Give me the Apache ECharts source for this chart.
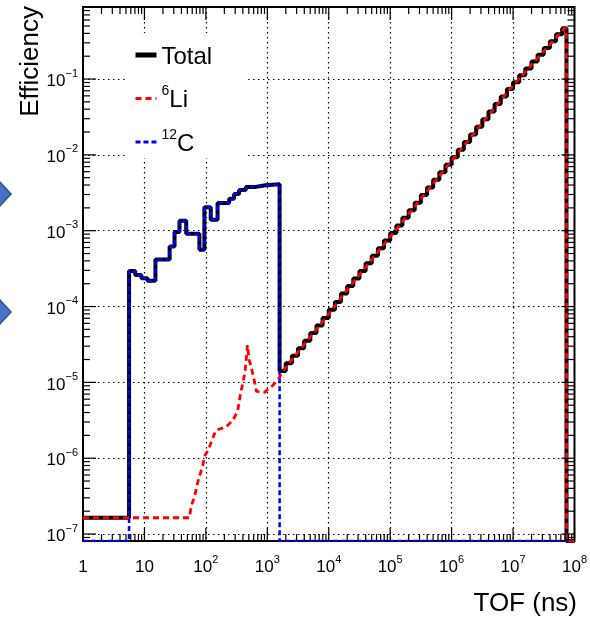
<!DOCTYPE html>
<html>
<head>
<meta charset="utf-8">
<script src="https://cdn.jsdelivr.net/npm/echarts@6/dist/echarts.min.js"></script>
<style>
  html, body { margin: 0; padding: 0; background: #fff; }
  #chart { width: 590px; height: 623px; }
</style>
</head>
<body>
<div id="chart"></div>
<script>
const FONT = '"Liberation Sans", Arial, Helvetica, sans-serif'

// axis ranges: TOF in ns, efficiency
const tofRange = [1, 1e8]
const effRange = [8.09e-8, 0.891]

// 6Li flat level at short TOF (Total follows it below the 12C edge)
const li6Floor = 1.64e-7

// 12C histogram: bin edges (ns) and efficiency per bin
const c12Edges = [5.62, 7.08, 8.91, 11.2, 15.1, 25.7, 30.9, 37.2, 47.9, 78.5, 94.6, 120, 155, 240, 288, 347, 447, 646, 933, 1585]
const c12Eff = [2.95e-4, 2.61e-4, 2.36e-4, 2.18e-4, 4.17e-4, 6.17e-4, 9.6e-4, 1.35e-3, 9.1e-4, 5.6e-4,
  2.04e-3, 1.39e-3, 2.31e-3, 2.63e-3, 3.05e-3, 3.45e-3, 3.78e-3, 3.98e-3, 4.10e-3]

// long-TOF rise (6Li only, so Total = 6Li): bin edges (ns) and efficiency
const riseEdges = [1585, 1995, 2512, 3162, 3981, 5012, 6310, 7943,
  1e4, 1.26e4, 1.58e4, 2.0e4, 2.51e4, 3.16e4, 3.98e4, 5.01e4, 6.31e4, 7.94e4,
  1e5, 1.26e5, 1.58e5, 2.0e5, 2.51e5, 3.16e5, 3.98e5, 5.01e5, 6.31e5, 7.94e5,
  1e6, 1.26e6, 1.58e6, 2.0e6, 2.51e6, 3.16e6, 3.98e6, 5.01e6, 6.31e6, 7.94e6,
  1e7, 1.26e7, 1.58e7, 2.0e7, 2.51e7, 3.16e7, 3.98e7, 5.01e7, 6.31e7, 7.41e7]
const riseEff = [1.41e-5, 1.78e-5, 2.24e-5, 2.82e-5, 3.55e-5, 4.47e-5, 5.62e-5, 7.08e-5,
  9.1e-5, 1.15e-4, 1.48e-4, 1.86e-4, 2.34e-4, 2.95e-4, 3.72e-4, 4.68e-4, 5.89e-4, 7.41e-4,
  9.33e-4, 1.17e-3, 1.48e-3, 1.86e-3, 2.34e-3, 2.95e-3, 3.72e-3, 4.68e-3, 5.89e-3, 7.41e-3,
  9.33e-3, 1.17e-2, 1.48e-2, 1.86e-2, 2.34e-2, 2.95e-2, 3.72e-2, 4.68e-2, 5.89e-2, 7.41e-2,
  9.1e-2, 0.112, 0.138, 0.170, 0.209, 0.257, 0.316, 0.389, 0.468]

// 6Li curve below the rise (TOF ns, efficiency)
const li6Tof = [1, 54, 57.5, 65.2, 76.4, 88.7, 94.6, 111, 126, 146,
  212, 272, 327, 349, 372, 405, 437, 458, 475, 506,
  560, 610, 665, 912, 1067, 1208, 1371, 1549]
const li6Eff = [1.64e-7, 1.64e-7, 2.3e-7, 3.1e-7, 5.4e-7, 7.8e-7, 1.05e-6, 1.32e-6, 1.74e-6, 2.34e-6,
  2.57e-6, 3.13e-6, 4.1e-6, 5.6e-6, 7.6e-6, 1.02e-5, 1.46e-5, 2.19e-5, 3.1e-5, 2.0e-5,
  1.46e-5, 1.08e-5, 7.6e-6, 7.4e-6, 8.4e-6, 9.0e-6, 1.02e-5, 1.13e-5]

const seriesNames = ['Total', '6Li', '12C']

// ---- build drawable point lists ----
const binPoints = (edges, vals) => vals.map((v, i) => [edges[i], v])
const lastRiseEdge = riseEdges[riseEdges.length - 1]
const lastRiseEff = riseEff[riseEff.length - 1]

const totalData = [[tofRange[0], li6Floor]]
  .concat(binPoints(c12Edges, c12Eff))
  .concat(binPoints(riseEdges, riseEff))
  .concat([[lastRiseEdge, effRange[0]], [tofRange[1], effRange[0]]])

const c12Data = [[tofRange[0], effRange[0]]]
  .concat(binPoints(c12Edges, c12Eff))
  .concat([[c12Edges[c12Edges.length - 1], effRange[0]], [tofRange[1], effRange[0]]])

// 6Li drawn as a line through bin centres
const li6Data = li6Tof.map((t, i) => [t, li6Eff[i]])
  .concat(riseEff.map((v, i) => [Math.sqrt(riseEdges[i] * riseEdges[i + 1]), v]))
  .concat([[lastRiseEdge, lastRiseEff], [lastRiseEdge, effRange[0]], [tofRange[1], effRange[0]]])

function powerLabel (v) {
  const e = Math.round(Math.log10(v))
  if (Math.abs(v / Math.pow(10, e) - 1) > 1e-6) return ''
  if (e === 0) return '{b|1}'
  if (e === 1) return '{b|10}'
  return '{b|10}{s|' + (e < 0 ? '\u2212' + (-e) : e) + '}'
}

const labelRich = {
  b: { fontFamily: FONT, fontSize: 17, color: '#000', lineHeight: 22, verticalAlign: 'bottom' },
  s: { fontFamily: FONT, fontSize: 11, color: '#000', verticalAlign: 'top' }
}

const dotted = { color: '#000', width: 1.2, type: [1.5, 3.5] }

// log tick marks on all four sides of the frame
function renderTicks (params, api) {
  const lines = []
  const bl = api.coord([tofRange[0], effRange[0]])
  const tr = api.coord([tofRange[1], effRange[1]])
  const add = (x1, y1, x2, y2) => lines.push({
    type: 'line',
    shape: { x1, y1, x2, y2 },
    style: { stroke: '#000', lineWidth: 1.2 }
  })
  for (let d = 0; d <= 8; d++) {
    for (let m = 1; m <= 9; m++) {
      const v = m * Math.pow(10, d)
      if (v > tofRange[1] * 1.0001) break
      const x = api.coord([v, effRange[0]])[0]
      const len = m === 1 ? 13 : 7
      add(x, bl[1], x, bl[1] - len)
      add(x, tr[1], x, tr[1] + len)
    }
  }
  for (let d = -8; d <= 0; d++) {
    for (let m = 1; m <= 9; m++) {
      const v = m * Math.pow(10, d)
      if (v < effRange[0] || v > effRange[1]) continue
      const y = api.coord([tofRange[0], v])[1]
      const len = m === 1 ? 13 : 7
      add(bl[0], y, bl[0] + len, y)
      add(tr[0], y, tr[0] - len, y)
    }
  }
  return { type: 'group', children: lines }
}

const noSymbol = { opacity: 0, borderWidth: 0 }

const chart = echarts.init(document.getElementById('chart'), null, { renderer: 'canvas' })
chart.setOption({
  animation: false,
  backgroundColor: '#fff',
  grid: {
    left: 83,
    right: 13,
    top: 7,
    bottom: 82,
    show: true,
    borderColor: '#000',
    borderWidth: 2
  },
  xAxis: {
    type: 'log',
    min: tofRange[0],
    max: tofRange[1],
    axisLine: { show: false },
    axisTick: { show: false },
    splitLine: { show: true, showMinLine: false, showMaxLine: false, lineStyle: dotted },
    axisLabel: {
      margin: 13,
      color: '#000',
      fontFamily: FONT,
      fontSize: 17,
      formatter: powerLabel,
      rich: labelRich
    }
  },
  yAxis: {
    type: 'log',
    min: effRange[0],
    max: effRange[1],
    axisLine: { show: false },
    axisTick: { show: false },
    splitLine: { show: true, showMinLine: false, showMaxLine: false, lineStyle: dotted },
    axisLabel: {
      margin: 5,
      color: '#000',
      fontFamily: FONT,
      fontSize: 17,
      formatter: powerLabel,
      rich: labelRich
    }
  },
  legend: {
    orient: 'vertical',
    left: 128,
    top: 33,
    padding: [12, 36, 2, 5],
    itemGap: 15.5,
    itemWidth: 21,
    itemHeight: 14,
    backgroundColor: '#fff',
    selectedMode: false,
    data: [
      { name: 'Total', lineStyle: { width: 5 }, itemStyle: noSymbol },
      { name: '6Li', lineStyle: { width: 3 }, itemStyle: noSymbol },
      { name: '12C', lineStyle: { width: 3 }, itemStyle: noSymbol }
    ],
    formatter: (name) => {
      if (name === '6Li') return '{sup|6}{txt|Li}'
      if (name === '12C') return '{sup|12}{txt|C}'
      return '{txt|' + name + '}'
    },
    textStyle: {
      fontFamily: FONT,
      fontSize: 24,
      color: '#000',
      rich: {
        txt: { fontFamily: FONT, fontSize: 24, color: '#000', lineHeight: 28, verticalAlign: 'bottom' },
        sup: { fontFamily: FONT, fontSize: 14, color: '#000', verticalAlign: 'top' }
      }
    }
  },
  graphic: [
    {
      type: 'text',
      x: 31,
      y: 6,
      rotation: Math.PI / 2,
      style: {
        text: 'Efficiency',
        font: '26px ' + FONT,
        fill: '#000',
        align: 'right',
        verticalAlign: 'middle',
        textAlign: 'right',
        textVerticalAlign: 'middle'
      }
    },
    {
      type: 'text',
      x: 577,
      y: 604,
      style: {
        text: 'TOF (ns)',
        font: '26px ' + FONT,
        fill: '#000',
        align: 'right',
        verticalAlign: 'middle',
        textAlign: 'right',
        textVerticalAlign: 'middle'
      }
    },
    {
      type: 'polygon',
      shape: { points: [[-18, 194], [-3, 179], [11, 194], [-3, 209]] },
      style: { fill: '#4472c4', stroke: '#2f528f', lineWidth: 1.5 }
    },
    {
      type: 'polygon',
      shape: { points: [[-18, 312], [-3, 297], [11, 312], [-3, 327]] },
      style: { fill: '#4472c4', stroke: '#2f528f', lineWidth: 1.5 }
    }
  ],
  series: [
    {
      name: seriesNames[0],
      type: 'line',
      step: 'end',
      data: totalData,
      symbol: 'none',
      z: 2,
      lineStyle: { color: '#000', width: 4 },
      itemStyle: { color: '#000' }
    },
    {
      name: seriesNames[2],
      type: 'line',
      step: 'end',
      data: c12Data,
      symbol: 'none',
      z: 3,
      lineStyle: { color: '#0000ff', width: 2.6, type: [5, 3] },
      itemStyle: { color: '#0000ff' }
    },
    {
      name: seriesNames[1],
      type: 'line',
      data: li6Data,
      symbol: 'none',
      z: 4,
      lineStyle: { color: '#ff0000', width: 2.8, type: [6, 4] },
      itemStyle: { color: '#ff0000' }
    },
    {
      type: 'custom',
      silent: true,
      z: 6,
      data: [[10, 1e-3]],
      renderItem: renderTicks
    }
  ]
})
</script>
</body>
</html>
